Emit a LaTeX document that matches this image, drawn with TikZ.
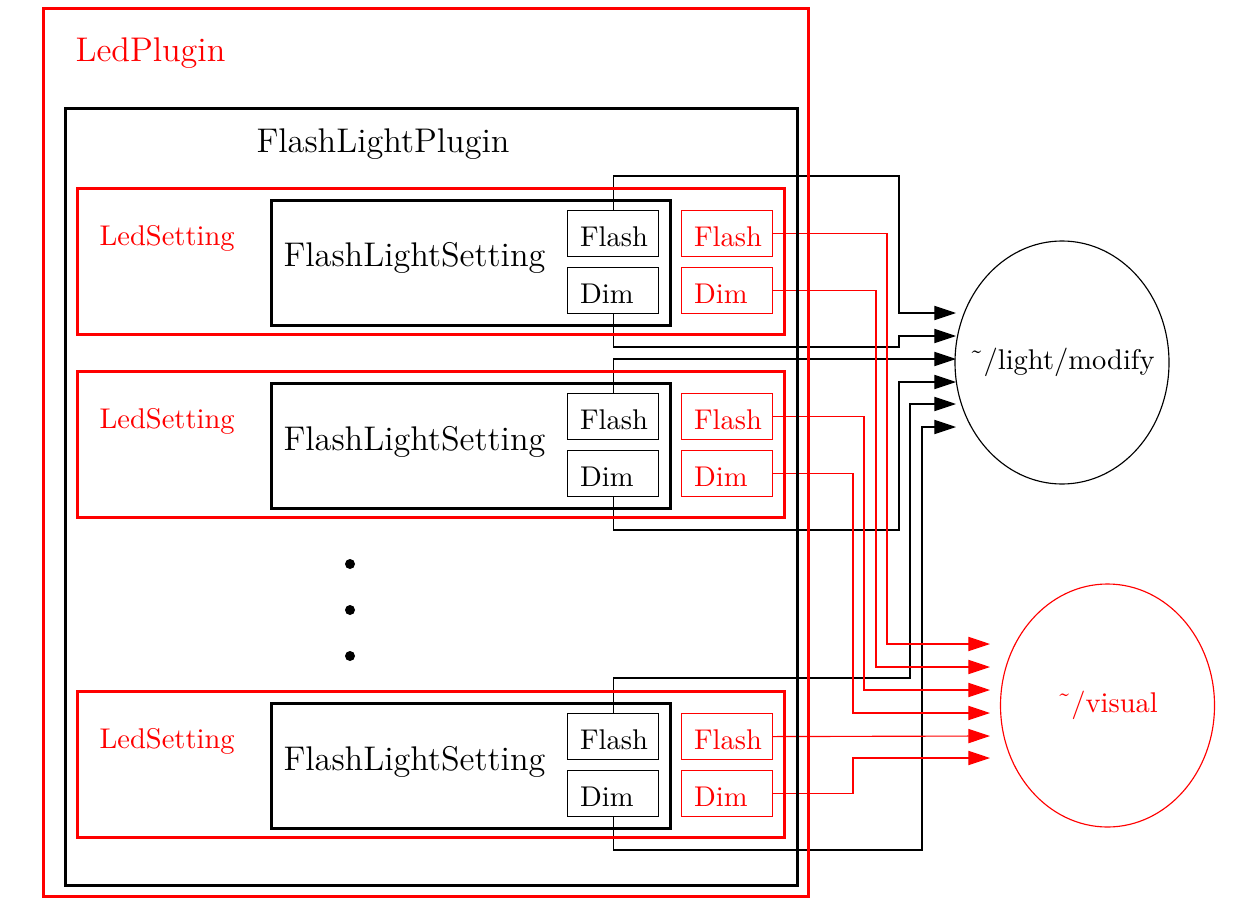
\documentclass[tikz,border=0pt]{standalone}
\usetikzlibrary{arrows.meta,shapes.geometric}
\pgfdeclarelayer{bg}
\pgfsetlayers{bg,main}
\newcommand\pxu{0.3507pt}
\newcommand\home{\symbol{"02DC}}
\begin{document}
\begin{tikzpicture}[x=\pxu,y=-\pxu,
  box/.style 2 args={draw, anchor=north west, inner sep=0pt,
    minimum width=#1*\pxu, minimum height=#2*\pxu},
  heavy/.style={line width=1.1pt},
  lbl/.style={inner sep=0pt},
  sig/.style={draw, line width=0.4pt, anchor=north west, align=left,
    text width=66*\pxu, inner xsep=12.5*\pxu, inner ysep=0pt,
    minimum height=46*\pxu, text height=9pt, text depth=0pt},
  arr/.style={-{Triangle[length=7.6pt,width=5pt]}},
  topic/.style={ellipse, draw, inner sep=0pt,
    minimum width=214*\pxu, minimum height=243*\pxu},
  dot/.style={circle, fill, inner sep=0pt, minimum size=10*\pxu}]
\useasboundingbox (0,0) rectangle (1257,903);

% outer plugin containers
\node[box={765}{888}, heavy, red] (ledplugin) at (41.5,7) {};
\node[lbl, red, font=\large, anchor=base west] (ledpluginlbl) at (75,62) {LedPlugin};
\node[box={732}{777}, heavy] (flplugin) at (63.5,107) {};
\node[lbl, font=\large, anchor=base west] (flpluginlbl) at (256,153) {FlashLightPlugin};

% one LedSetting / FlashLightSetting group per row
\foreach \F/\g in {210/1,393/2,713/3} {
  \node[box={707}{146}, heavy, red] (ls\g) at (76,\F-23) {};
  \node[lbl, red, anchor=base west] (lslbl\g) at (99,\F+35) {LedSetting};
  \node[box={399}{125}, heavy] (fs\g) at (270,\F-11) {};
  \node[lbl, font=\large, anchor=base west] (fslbl\g) at (283,\F+57) {FlashLightSetting};
  \node[sig] (f\g) at (567,\F) {Flash};
  \node[sig] (d\g) at (567,\F+57) {Dim};
  \node[sig, red, text=red] (rf\g) at (681,\F) {Flash};
  \node[sig, red, text=red] (rd\g) at (681,\F+57) {Dim};
}

% vertical ellipsis between the rows
\node[dot] (dot1) at (350,564) {};
\node[dot] (dot2) at (350,610) {};
\node[dot] (dot3) at (350,656) {};

% topics
\node[topic] (modify) at (1062,362.5) {};
\node[lbl] (modifylbl) at (modify.center) {\home/light/modify};
\node[topic, red] (visual) at (1107.5,705.5) {};
\node[lbl, red] (visuallbl) at (visual.center) {\home/visual};

% arrow ends at the topics
\coordinate (m1) at (956,313);
\coordinate (m2) at (956,336);
\coordinate (m3) at (956,359);
\coordinate (m4) at (956,382);
\coordinate (m5) at (956,404);
\coordinate (m6) at (956,427);
\coordinate (v1) at (990,644);
\coordinate (v2) at (990,667);
\coordinate (v3) at (990,690);
\coordinate (v4) at (990,713);
\coordinate (v5) at (990,736);
\coordinate (v6) at (990,758);

\begin{pgfonlayer}{bg}
  % Flash/Dim outputs of FlashLightSetting
  \draw[arr] (f1.north) |- (899,176) |- (m1);
  \draw[arr] (d1.south) |- (899,347) |- (m2);
  \draw[arr] (f2.north) |- (m3);
  \draw[arr] (d2.south) |- (899,530) |- (m4);
  \draw[arr] (f3.north) |- (910,678) |- (m5);
  \draw[arr] (d3.south) |- (922,850) |- (m6);
  % Flash/Dim outputs of LedSetting
  \draw[arr, red] (rf1.east) -| (887,644) -- (v1);
  \draw[arr, red] (rd1.east) -| (876,667) -- (v2);
  \draw[arr, red] (rf2.east) -| (864,690) -- (v3);
  \draw[arr, red] (rd2.east) -| (853,713) -- (v4);
  \draw[arr, red] (rf3.east) -- (v5);
  \draw[arr, red] (rd3.east) -| (853,758) -- (v6);
\end{pgfonlayer}
\end{tikzpicture}
\end{document}
